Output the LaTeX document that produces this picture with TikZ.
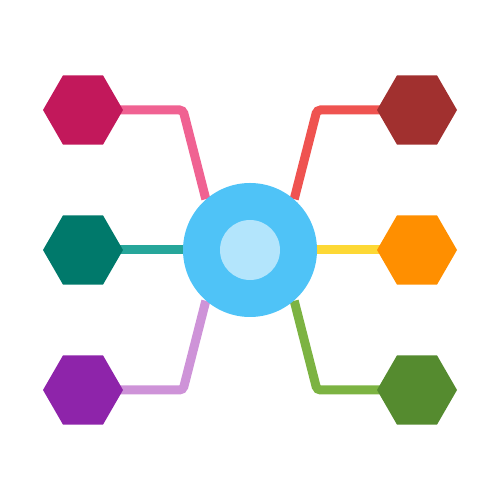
\documentclass[tikz,border=0pt]{standalone}
\usepackage{tikz}
\usetikzlibrary{positioning,shapes.geometric,backgrounds}

\definecolor{hubblue}{HTML}{4FC3F7}
\definecolor{hubcore}{HTML}{B3E5FC}
\definecolor{hexrose}{HTML}{C2185B}
\definecolor{hexteal}{HTML}{00796B}
\definecolor{hexplum}{HTML}{8E24AA}
\definecolor{hexrust}{HTML}{A1302F}
\definecolor{hexamber}{HTML}{FF8F00}
\definecolor{hexgreen}{HTML}{558B2F}
\definecolor{linkrose}{HTML}{F06292}
\definecolor{linkteal}{HTML}{26A69A}
\definecolor{linkplum}{HTML}{CE93D8}
\definecolor{linkrust}{HTML}{EF5350}
\definecolor{linkamber}{HTML}{FDD835}
\definecolor{linkgreen}{HTML}{7CB342}

\begin{document}
\begin{tikzpicture}[hexa/.style = {regular polygon, regular polygon sides=6,
                        minimum size=1.6cm, inner sep=0pt, draw=none},
                      link/.style = {line width=0.18cm, rounded corners=2pt}]
  \useasboundingbox (0,0) rectangle (10,10);
  % hub
  \node (hub) [circle, fill=hubblue, minimum size=2.68cm, inner sep=0pt] at (5,5) {};
  \node (core) [circle, fill=hubcore, minimum size=1.2cm, inner sep=0pt] at (hub.center) {};
  % outer hexagons
  \node (tl) [hexa, fill=hexrose]  at (1.66,7.8) {};
  \node (ml) [hexa, fill=hexteal]  at (1.66,5)   {};
  \node (bl) [hexa, fill=hexplum]  at (1.66,2.2) {};
  \node (tr) [hexa, fill=hexrust]  at (8.34,7.8) {};
  \node (mr) [hexa, fill=hexamber] at (8.34,5)   {};
  \node (br) [hexa, fill=hexgreen] at (8.34,2.2) {};
  \coordinate (tlbend) at (3.66,7.8);
  \coordinate (blbend) at (3.66,2.2);
  \coordinate (trbend) at (6.34,7.8);
  \coordinate (brbend) at (6.34,2.2);
  % connectors
  \begin{scope}[on background layer]
    \draw[link, linkrose]  (tl.center) -- (tlbend) -- (hub.131);
    \draw[link, linkteal]  (ml.center) -- (hub.center);
    \draw[link, linkplum]  (bl.center) -- (blbend) -- (hub.229);
    \draw[link, linkrust]  (tr.center) -- (trbend) -- (hub.49);
    \draw[link, linkamber] (mr.center) -- (hub.center);
    \draw[link, linkgreen] (br.center) -- (brbend) -- (hub.311);
  \end{scope}
\end{tikzpicture}
\end{document}
